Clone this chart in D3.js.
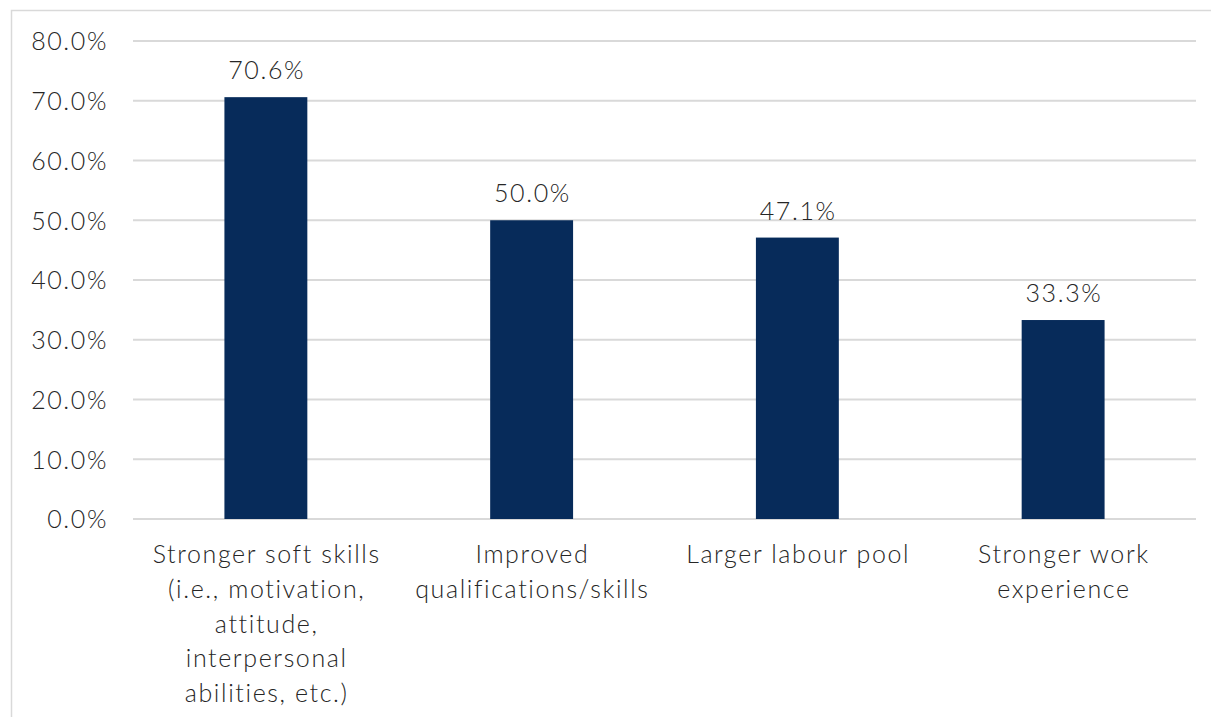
<!DOCTYPE html>
<html>
<head>
<meta charset="utf-8">
<script src="https://cdn.jsdelivr.net/npm/d3@7"></script>
<style>
  html, body { margin: 0; padding: 0; background: #fff; }
  svg { display: block; }
  text { font-family: Lato, "Open Sans", sans-serif; font-weight: 300; fill: #262626; letter-spacing: 1.6px; }
</style>
</head>
<body>
<svg id="chart" width="1211" height="717"></svg>
<script>
// Share of respondents by perceived benefit
const categories = [
  ["Stronger soft skills", "(i.e., motivation,", "attitude,", "interpersonal", "abilities, etc.)"],
  ["Improved", "qualifications/skills"],
  ["Larger labour pool"],
  ["Stronger work", "experience"]
];
const values = [70.6, 50.0, 47.1, 33.3];
const yTicks = [0, 10, 20, 30, 40, 50, 60, 70, 80];

const svg = d3.select("#chart");
const W = 1211, H = 717;
const margin = { left: 133, right: 15, top: 41, bottom: 198 };

// outer frame (left and top edges visible)
svg.append("rect")
  .attr("x", 11.5).attr("y", 10.5)
  .attr("width", W + 10).attr("height", H + 10)
  .attr("fill", "none").attr("stroke", "#d9d9d9").attr("stroke-width", 1.5);

const x = d3.scaleBand()
  .domain(d3.range(categories.length))
  .range([margin.left, W - margin.right])
  .padding(0);

const y = d3.scaleLinear()
  .domain([0, 80])
  .range([H - margin.bottom, margin.top]);

// gridlines
svg.append("g")
  .selectAll("line")
  .data(yTicks)
  .join("line")
  .attr("x1", margin.left).attr("x2", W - margin.right)
  .attr("y1", d => y(d)).attr("y2", d => y(d))
  .attr("stroke", "#d9d9d9").attr("stroke-width", 2);

// y axis labels
const yAxis = d3.axisLeft(y)
  .tickValues(yTicks)
  .tickFormat(d => d.toFixed(1) + "%")
  .tickSize(0)
  .tickPadding(25);
const gy = svg.append("g")
  .attr("transform", `translate(${margin.left},0)`)
  .call(yAxis);
gy.select(".domain").remove();
gy.selectAll("text")
  .attr("font-size", 25)
  .attr("font-family", "Lato, 'Open Sans', sans-serif")
  .attr("fill", "#262626")
  .attr("dy", "0.35em");

// bars
const barW = x.bandwidth() * 0.312;
svg.append("g")
  .selectAll("rect")
  .data(values)
  .join("rect")
  .attr("x", (d, i) => x(i) + x.bandwidth() / 2 - barW / 2)
  .attr("width", barW)
  .attr("y", d => y(d))
  .attr("height", d => y(0) - y(d))
  .attr("fill", "#072b5a");

// value labels
svg.append("g")
  .selectAll("text")
  .data(values)
  .join("text")
  .attr("x", (d, i) => x(i) + x.bandwidth() / 2 + 0.8)
  .attr("y", d => y(d) - 18)
  .attr("text-anchor", "middle")
  .attr("font-size", 25)
  .text(d => d.toFixed(1) + "%");

// category labels
const cat = svg.append("g")
  .selectAll("text")
  .data(categories)
  .join("text")
  .attr("text-anchor", "middle")
  .attr("font-size", 25)
  .attr("x", (d, i) => x(i) + x.bandwidth() / 2 + 0.8)
  .attr("y", y(0) + 44);
cat.selectAll("tspan")
  .data(d => d)
  .join("tspan")
  .attr("x", function() { return this.parentNode.getAttribute("x"); })
  .attr("dy", (d, i) => i === 0 ? 0 : 34.8)
  .text(d => d);
</script>
</body>
</html>
